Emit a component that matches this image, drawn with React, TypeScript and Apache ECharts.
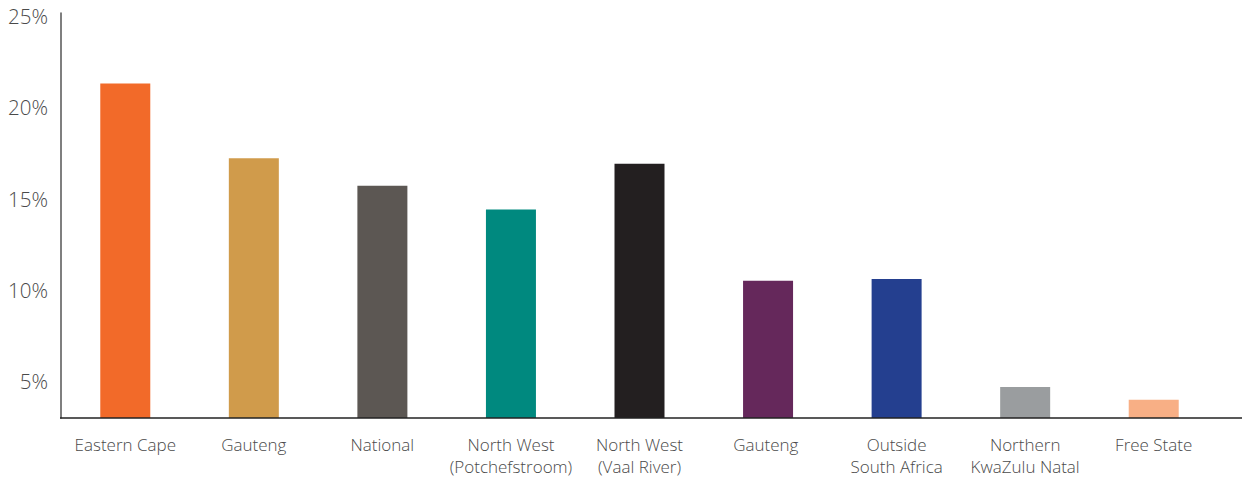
import React, { useEffect, useRef } from "react";
import * as echarts from "echarts";

const categories = [
  "Eastern Cape",
  "Gauteng",
  "National",
  "North West\n(Potchefstroom)",
  "North West\n(Vaal River)",
  "Gauteng ",
  "Outside\nSouth Africa",
  "Northern\nKwaZulu Natal",
  "Free State",
];
const values = [21.3, 17.2, 15.7, 14.4, 16.9, 10.5, 10.6, 4.7, 4.0];
const colors = [
  "#F26A29",
  "#D09B4B",
  "#5C5753",
  "#00897F",
  "#231F20",
  "#65285B",
  "#243F8F",
  "#9A9D9F",
  "#F8AF85",
];
const yTicks = [5, 10, 15, 20, 25];

export default function App() {
  const ref = useRef<HTMLDivElement>(null);
  useEffect(() => {
    const chart = echarts.init(ref.current!, undefined, { renderer: "svg" });
    chart.setOption({
      animation: false,
      grid: { left: 61, top: 13, width: 1157, bottom: 61, containLabel: false },
      xAxis: {
        type: "category",
        data: categories,
        axisLine: { show: false },
        axisTick: { show: false },
        axisLabel: {
          interval: 0,
          margin: 16,
          fontFamily: "Open Sans",
          fontWeight: 300,
          fontSize: 17,
          lineHeight: 21.5,
          color: "#4a4a4a",
        },
      },
      yAxis: {
        type: "value",
        min: 3,
        max: 25.15,
        axisLine: { show: true, lineStyle: { color: "#555", width: 1.5 } },
        axisTick: { show: false },
        splitLine: { show: false },
        axisLabel: {
          customValues: yTicks,
          formatter: (v: number) => `${v}%`,
          margin: 13,
          fontFamily: "Open Sans",
          fontWeight: 300,
          fontSize: 20.5,
          color: "#4a4a4a",
        },
      },
      graphic: [
        {
          type: "line",
          shape: { x1: 60, y1: 418, x2: 1242, y2: 418 },
          style: { stroke: "#222", lineWidth: 1.5 },
          z: 100,
        },
      ],
      series: [
        {
          type: "bar",
          barWidth: 50,
          data: values.map((v, i) => ({ value: v, itemStyle: { color: colors[i] } })),
        },
      ],
    });
    return () => chart.dispose();
  }, []);
  return (
    <div
      ref={ref}
      style={{ position: "fixed", left: 0, top: 0, width: 1242, height: 479, background: "#fff" }}
    />
  );
}
